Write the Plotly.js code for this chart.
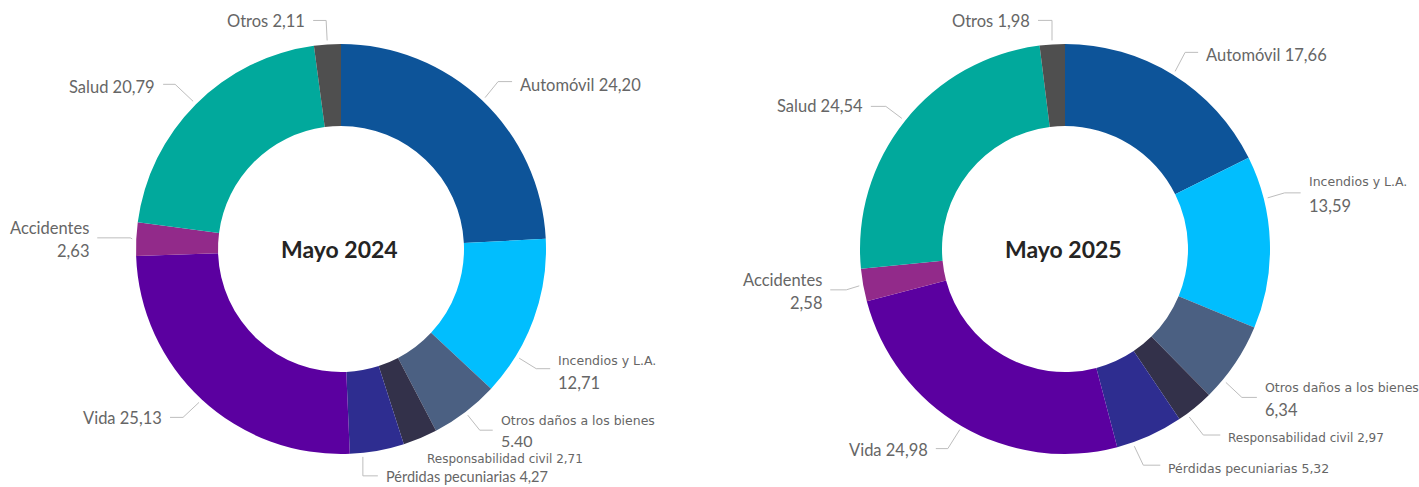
<!DOCTYPE html>
<html>
<head>
<meta charset="utf-8">
<script src="https://cdn.plot.ly/plotly-3.0.1.min.js"></script>
<style>html,body{margin:0;padding:0;background:#fff;}#chart{width:1419px;height:487px;}</style>
</head>
<body>
<div id="chart"></div>
<script>
// ---- data ----
const categories = ["Automóvil","Incendios y L.A.","Otros daños a los bienes","Responsabilidad civil","Pérdidas pecuniarias","Vida","Accidentes","Salud","Otros"];
const values2024 = [24.20, 12.71, 5.40, 2.71, 4.27, 25.13, 2.63, 20.79, 2.11];
const valueLabels2024 = ["24,20","12,71","5.40","2,71","4,27","25,13","2,63","20,79","2,11"];
const values2025 = [17.66, 13.59, 6.34, 2.97, 5.32, 24.98, 2.58, 24.54, 1.98];
const valueLabels2025 = ["17,66","13,59","6,34","2,97","5,32","24,98","2,58","24,54","1,98"];
const titles = ["Mayo 2024","Mayo 2025"];

// ---- styles / layout ----
const W = 1419, H = 487;
const colors = ["#0D5499","#01BEFE","#4B6082","#33314A","#2E2D90","#5B00A0","#922A8A","#01A99C","#4F4F4F"];
const BIG = 16.5, SMALL = 12.5;
const bigFont = "Lato, 'Open Sans', sans-serif";
const smallFont = "'DejaVu Sans', sans-serif";
const textColor = "#666666";
const lineColor = "#BDBDBD";

const geo = [{cx:341, cy:249, R:205}, {cx:1065, cy:249, R:205}];

// label placement: f = position within slice, (ex,ey) elbow offset from start, hl = horizontal leg
const place = [
  [
    {f:.5,  ex:13,  ey:-16, hl:14,  lines:[{p:"both", s:BIG, dy:3}]},
    {f:.75, ex:17,  ey:10.5,hl:14,  lines:[{p:"name", s:SMALL, dy:-8, sm:1},{p:"value", s:BIG, dy:14}]},
    {f:.5,  ex:12,  ey:15,  hl:13,  lines:[{p:"name", s:SMALL, dy:-10, sm:1},{p:"value", s:16, dy:10}]},
    {f:.5,  ex:3,   ey:17,  hl:0,   noLine:true, lines:[{p:"both", s:12, dy:0, sm:1}]},
    {f:.77, ex:0,   ey:19,  hl:15,  lines:[{p:"both", s:14.5, dy:1}]},
    {f:.5,  ex:-16, ey:15,  hl:-13, lines:[{p:"both", s:BIG, dy:1}]},
    {f:.5,  ex:-2,  ey:-1,  hl:-33, lines:[{p:"name", s:BIG, dy:-10},{p:"value", s:BIG, dy:13}]},
    {f:.5,  ex:-18, ey:-17, hl:-12, lines:[{p:"both", s:BIG, dy:3}]},
    {f:.5,  ex:-1,  ey:-20, hl:-13, lines:[{p:"both", s:BIG, dy:1}]}
  ],
  [
    {f:.5,  ex:10,  ey:-19, hl:13,  lines:[{p:"both", s:BIG, dy:3}]},
    {f:.25, ex:17,  ey:-5,  hl:16,  lines:[{p:"name", s:SMALL, dy:-11, sm:1},{p:"value", s:BIG, dy:13}]},
    {f:.75, ex:16,  ey:15,  hl:15,  lines:[{p:"name", s:SMALL, dy:-10, sm:1},{p:"value", s:BIG, dy:13}]},
    {f:.76, ex:14,  ey:18,  hl:17,  lines:[{p:"both", s:12, dy:3, sm:1}]},
    {f:.76, ex:9,   ey:19,  hl:17,  lines:[{p:"both", s:SMALL, dy:3, sm:1}]},
    {f:.5,  ex:-12, ey:19,  hl:-12, lines:[{p:"both", s:BIG, dy:1}]},
    {f:.5,  ex:-13, ey:4,   hl:-16, lines:[{p:"name", s:BIG, dy:-10},{p:"value", s:BIG, dy:13}]},
    {f:.5,  ex:-16, ey:-12, hl:-15, lines:[{p:"both", s:BIG, dy:0}]},
    {f:.5,  ex:0,   ey:-20, hl:-14, lines:[{p:"both", s:BIG, dy:1}]}
  ]
];

const px = x => x / W;
const py = y => 1 - y / H;

const datasets = [
  {values: values2024, vlabels: valueLabels2024},
  {values: values2025, vlabels: valueLabels2025}
];

const traces = [];
const shapes = [];
const annotations = [];

datasets.forEach((ds, k) => {
  const g = geo[k];
  traces.push({
    type: "pie",
    labels: categories,
    values: ds.values,
    hole: 0.6,
    sort: false,
    direction: "clockwise",
    rotation: 0,
    textinfo: "none",
    hoverinfo: "label+value",
    marker: {colors: colors, line: {width: 0}},
    showlegend: false,
    domain: {x: [px(g.cx - g.R), px(g.cx + g.R)], y: [py(g.cy + g.R), py(g.cy - g.R)]}
  });
  annotations.push({
    x: px(g.cx - 2), y: py(g.cy), xref: "paper", yref: "paper",
    text: "<b>" + titles[k] + "</b>", showarrow: false,
    xanchor: "center", yanchor: "middle",
    font: {family: bigFont, size: 23, color: "#252423"}
  });
  const total = ds.values.reduce((a, b) => a + b, 0);
  let cum = 0;
  ds.values.forEach((v, i) => {
    const pl = place[k][i];
    const th = 2 * Math.PI * (cum + pl.f * v) / total;
    cum += v;
    const r1 = g.R + 4;
    const sx = g.cx + r1 * Math.sin(th), sy = g.cy - r1 * Math.cos(th);
    const exx = sx + pl.ex, eyy = sy + pl.ey;
    const endx = exx + pl.hl;
    if (!pl.noLine) {
      shapes.push({
        type: "path", xref: "paper", yref: "paper",
        path: `M ${px(sx)} ${py(sy)} L ${px(exx)} ${py(eyy)} L ${px(endx)} ${py(eyy)}`,
        line: {color: lineColor, width: 1}
      });
    }
    const right = pl.hl < 0;
    const gap = pl.noLine ? 0 : 6;
    const tx = right ? endx - gap : endx + gap;
    pl.lines.forEach(ln => {
      const txt = ln.p === "name" ? categories[i] : ln.p === "value" ? ds.vlabels[i] : categories[i] + " " + ds.vlabels[i];
      annotations.push({
        x: px(tx), y: py(eyy + ln.dy), xref: "paper", yref: "paper",
        text: txt, showarrow: false,
        xanchor: right ? "right" : "left", yanchor: "middle",
        font: {family: ln.sm ? smallFont : bigFont, size: ln.s, color: textColor}
      });
    });
  });
});

const layout = {
  width: W, height: H,
  margin: {l: 0, r: 0, t: 0, b: 0},
  paper_bgcolor: "#ffffff",
  plot_bgcolor: "#ffffff",
  shapes: shapes,
  annotations: annotations,
  showlegend: false
};

Plotly.newPlot("chart", traces, layout, {displayModeBar: false, staticPlot: true});
</script>
</body>
</html>
